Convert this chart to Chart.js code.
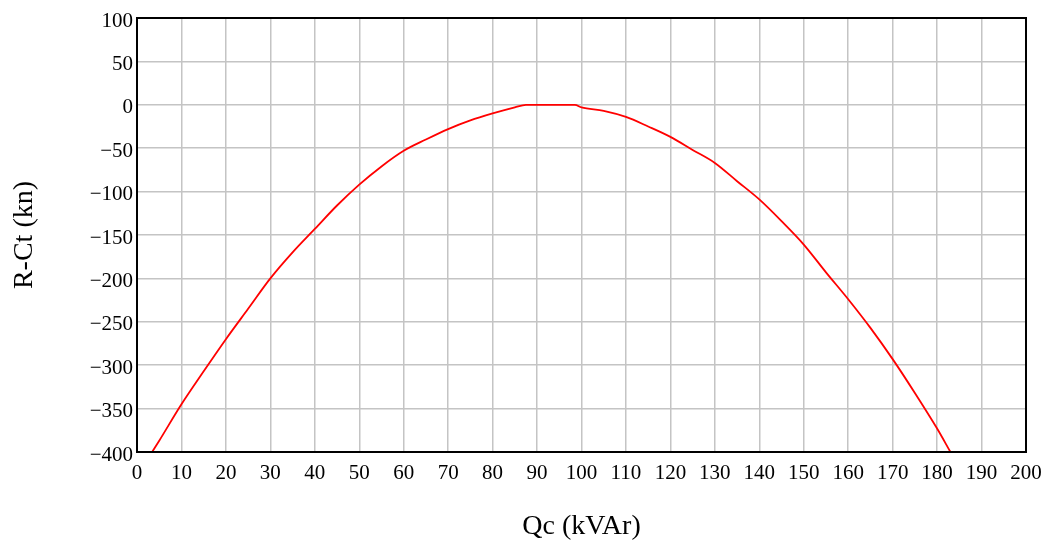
<!DOCTYPE html>
<html>
<head>
<meta charset="utf-8">
<script src="https://cdn.jsdelivr.net/npm/chart.js@4.4.1/dist/chart.umd.min.js"></script>
<style>
  html, body { margin: 0; padding: 0; background: #fff; }
  #wrap { width: 1051px; height: 543px; }
</style>
</head>
<body>
<div id="wrap"><canvas id="c" width="1051" height="543"></canvas></div>
<script>
// valores: Qc (kVAr) x R-Ct (kn)
const qc = [3.4, 5, 10, 15, 20, 25, 30, 35, 40, 45, 50, 55, 60, 65, 70, 75, 80, 85, 87.5, 90, 95, 98.5,
  100, 105, 110, 115, 120, 125, 130, 135, 140, 145, 150, 155, 160, 165, 170, 175, 180, 183];
const rct = [-400, -387, -345, -307, -270, -235, -200, -170, -143, -116, -92, -71, -53, -40, -28, -18, -10, -3, 0, 0, 0, 0,
  -3, -7, -14, -25, -37, -52, -67, -88, -109, -134, -161, -193, -224, -257, -293, -332, -373, -400];
const xTicks = [0, 10, 20, 30, 40, 50, 60, 70, 80, 90, 100, 110, 120, 130, 140, 150, 160, 170, 180, 190, 200];
const yTicks = [100, 50, 0, -50, -100, -150, -200, -250, -300, -350, -400];

const serif = 'Liberation Serif';

// moldura preta em volta da área do gráfico
const frame = {
  id: 'frame',
  afterDraw(chart) {
    const a = chart.chartArea, ctx = chart.ctx;
    ctx.save();
    ctx.strokeStyle = '#000';
    ctx.lineWidth = 2;
    ctx.strokeRect(a.left, a.top, a.right - a.left, a.bottom - a.top);
    ctx.restore();
  }
};

new Chart(document.getElementById('c').getContext('2d'), {
  type: 'scatter',
  data: {
    datasets: [{
      data: qc.map((x, i) => ({ x: x, y: rct[i] })),
      showLine: true,
      borderColor: '#ff0000',
      borderWidth: 1.8,
      pointRadius: 0,
      cubicInterpolationMode: 'monotone'
    }]
  },
  options: {
    responsive: false,
    animation: false,
    layout: { padding: { left: 0, top: 18, right: 25, bottom: 0 } },
    plugins: { legend: { display: false }, tooltip: { enabled: false } },
    scales: {
      x: {
        type: 'linear', min: 0, max: 200,
        afterBuildTicks(s) { s.ticks = xTicks.map(v => ({ value: v })); },
        afterFit(s) { s.height = 91; },
        grid: { color: '#c4c4c4', lineWidth: 1.5, drawTicks: false },
        border: { display: false },
        ticks: { color: '#000', padding: 9, maxRotation: 0, autoSkip: false, font: { family: serif, size: 21 } },
        title: { display: true, text: 'Qc (kVAr)', color: '#000', padding: { top: 0, bottom: 0 }, font: { family: serif, size: 28 } }
      },
      y: {
        type: 'linear', min: -400, max: 100,
        afterBuildTicks(s) { s.ticks = yTicks.map(v => ({ value: v })); },
        afterFit(s) { s.width = 137; },
        grid: { color: '#c4c4c4', lineWidth: 1.5, drawTicks: false },
        border: { display: false },
        ticks: {
          color: '#000', padding: 4, autoSkip: false, labelOffset: 3, font: { family: serif, size: 21 },
          callback: v => String(v).replace('-', '\u2212')
        },
        title: { display: true, text: 'R-Ct (kn)', color: '#000', padding: { top: 8, bottom: 0 }, font: { family: serif, size: 28 } }
      }
    }
  },
  plugins: [frame]
});
</script>
</body>
</html>
